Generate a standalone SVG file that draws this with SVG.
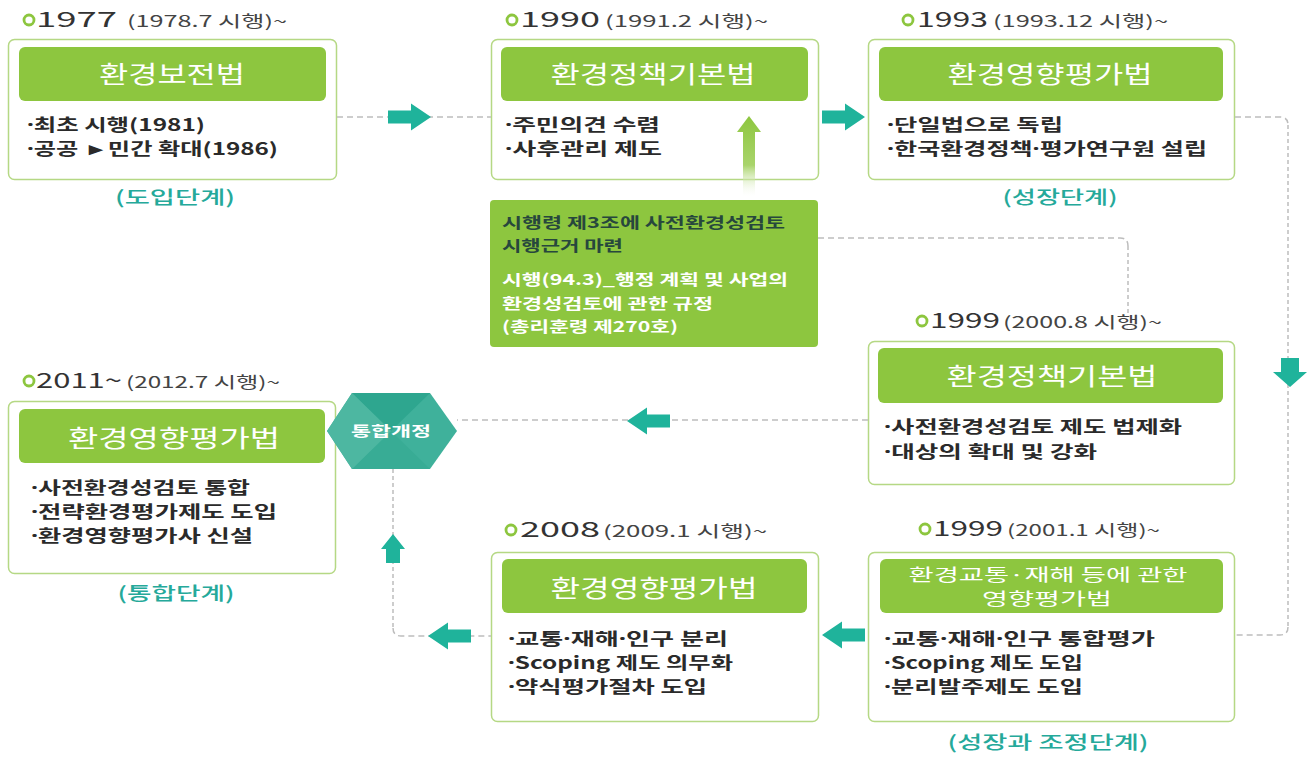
<svg xmlns="http://www.w3.org/2000/svg" width="1316" height="757" viewBox="0 0 1316 757">
<style>
text{font-family:"Noto Sans CJK KR","Noto Sans",sans-serif;}
.nd{font-family:"Noto Sans","DejaVu Sans",sans-serif;}
.box{fill:#fff;stroke:#b5d884;stroke-width:1.5;}
.bar{fill:#8dc63f;}
.ttl{fill:#fff;font-size:24px;text-anchor:middle;}
.ttl2{fill:#fff;font-size:16.5px;text-anchor:middle;}
.bul{fill:#2a2a2a;font-size:17px;font-weight:bold;}
.yr{fill:#333;font-size:21px;font-weight:400;}
.par{fill:#444;font-size:16px;}
.dot{fill:none;stroke:#8dc63f;stroke-width:2.8;}
.stg{fill:#25a99a;font-size:18px;font-weight:500;text-anchor:middle;}
.dash{fill:none;stroke:#bdbdbd;stroke-width:1.5;stroke-dasharray:6 4;}
.dott{fill:none;stroke:#bdbdbd;stroke-width:1.5;stroke-dasharray:4 3;}
.arr{fill:#1fb39b;}
.c1{fill:#27473d;font-size:15px;font-weight:bold;}
.c2{fill:#fff;font-size:15px;font-weight:bold;}
</style>
<defs>
<path id="ra" d="M0,-6.5 H23 V-13.5 L43,0 L23,13.5 V6.5 H0 Z"/>
<linearGradient id="ug" gradientUnits="userSpaceOnUse" x1="0" y1="116" x2="0" y2="198">
<stop offset="0" stop-color="#8dc63f"/>
<stop offset="0.6" stop-color="#a9d46b"/>
<stop offset="1" stop-color="#ffffff" stop-opacity="0"/>
</linearGradient>
</defs>

<g id="node-1977">
<circle class="dot" cx="29" cy="20" r="5"/>
<text class="yr" x="36" y="27" textLength="81" lengthAdjust="spacingAndGlyphs">1977</text>
<text class="par" x="127" y="27" textLength="160" lengthAdjust="spacingAndGlyphs">(1978.7 시행)~</text>
<rect class="box" x="8.5" y="39.5" width="328" height="140" rx="6"/>
<rect class="bar" x="19" y="47" width="307" height="54" rx="6"/>
<text class="ttl" x="172" y="83" textLength="146" lengthAdjust="spacingAndGlyphs">환경보전법</text>
<text class="bul" x="27" y="131" textLength="178" lengthAdjust="spacingAndGlyphs"><tspan class="nd">·</tspan>최초 시행(1981)</text>
<text class="bul" x="27" y="155" textLength="251" lengthAdjust="spacingAndGlyphs"><tspan class="nd">·</tspan>공공 ►민간 확대(1986)</text>
<text class="stg" x="175" y="204" textLength="120" lengthAdjust="spacingAndGlyphs">(도입단계)</text>
</g>

<g id="node-1990">
<circle class="dot" cx="512" cy="20" r="5"/>
<text class="yr" x="520" y="27" textLength="80" lengthAdjust="spacingAndGlyphs">1990</text>
<text class="par" x="605" y="27" textLength="163" lengthAdjust="spacingAndGlyphs">(1991.2 시행)~</text>
<rect class="box" x="491.5" y="39.5" width="327" height="140" rx="6"/>
<rect class="bar" x="501" y="47" width="307" height="54" rx="6"/>
<text class="ttl" x="653" y="83" textLength="205" lengthAdjust="spacingAndGlyphs">환경정책기본법</text>
<text class="bul" x="505" y="131" textLength="155" lengthAdjust="spacingAndGlyphs"><tspan class="nd">·</tspan>주민의견 수렴</text>
<text class="bul" x="505" y="155" textLength="157" lengthAdjust="spacingAndGlyphs"><tspan class="nd">·</tspan>사후관리 제도</text>
</g>

<g id="node-callout">
<rect x="490" y="200" width="328" height="147" rx="4" fill="#8dc63f"/>
<text class="c1" x="502" y="228" textLength="283" lengthAdjust="spacingAndGlyphs">시행령 제3조에 사전환경성검토</text>
<text class="c1" x="502" y="251" textLength="121" lengthAdjust="spacingAndGlyphs">시행근거 마련</text>
<text class="c2" x="502" y="285" textLength="286" lengthAdjust="spacingAndGlyphs">시행(94.3)_행정 계획 및 사업의</text>
<text class="c2" x="502" y="309" textLength="211" lengthAdjust="spacingAndGlyphs">환경성검토에 관한 규정</text>
<text class="c2" x="502" y="332" textLength="176" lengthAdjust="spacingAndGlyphs">(총리훈령 제270호)</text>
</g>

<g id="node-1993">
<circle class="dot" cx="908" cy="20" r="5"/>
<text class="yr" x="917" y="27" textLength="71" lengthAdjust="spacingAndGlyphs">1993</text>
<text class="par" x="993" y="27" textLength="175" lengthAdjust="spacingAndGlyphs">(1993.12 시행)~</text>
<rect class="box" x="868.5" y="39.5" width="366" height="140" rx="6"/>
<rect class="bar" x="879" y="47" width="344" height="54" rx="6"/>
<text class="ttl" x="1050" y="83" textLength="205" lengthAdjust="spacingAndGlyphs">환경영향평가법</text>
<text class="bul" x="887" y="131" textLength="176" lengthAdjust="spacingAndGlyphs"><tspan class="nd">·</tspan>단일법으로 독립</text>
<text class="bul" x="887" y="155" textLength="320" lengthAdjust="spacingAndGlyphs"><tspan class="nd">·</tspan>한국환경정책<tspan class="nd">·</tspan>평가연구원 설립</text>
<text class="stg" x="1060" y="204" textLength="115" lengthAdjust="spacingAndGlyphs">(성장단계)</text>
</g>

<g id="node-1999a">
<circle class="dot" cx="922" cy="321" r="5"/>
<text class="yr" x="930" y="328" textLength="70" lengthAdjust="spacingAndGlyphs">1999</text>
<text class="par" x="1003" y="328" textLength="159" lengthAdjust="spacingAndGlyphs">(2000.8 시행)~</text>
<rect class="box" x="868.5" y="341.5" width="366" height="143" rx="6"/>
<rect class="bar" x="878" y="348" width="345" height="55" rx="6"/>
<text class="ttl" x="1052" y="385" textLength="211" lengthAdjust="spacingAndGlyphs">환경정책기본법</text>
<text class="bul" x="884" y="433" textLength="298" lengthAdjust="spacingAndGlyphs"><tspan class="nd">·</tspan>사전환경성검토 제도 법제화</text>
<text class="bul" x="884" y="458" textLength="213" lengthAdjust="spacingAndGlyphs"><tspan class="nd">·</tspan>대상의 확대 및 강화</text>
</g>

<g id="node-2011">
<circle class="dot" cx="29" cy="381" r="5"/>
<text class="yr" x="36" y="388" textLength="86" lengthAdjust="spacingAndGlyphs">2011~</text>
<text class="par" x="126" y="388" textLength="154" lengthAdjust="spacingAndGlyphs">(2012.7 시행)~</text>
<rect class="box" x="8.5" y="401.5" width="327" height="172" rx="6"/>
<rect class="bar" x="19" y="409" width="306" height="54" rx="6"/>
<text class="ttl" x="174" y="447" textLength="212" lengthAdjust="spacingAndGlyphs">환경영향평가법</text>
<text class="bul" x="31" y="494" textLength="219" lengthAdjust="spacingAndGlyphs"><tspan class="nd">·</tspan>사전환경성검토 통합</text>
<text class="bul" x="31" y="518" textLength="246" lengthAdjust="spacingAndGlyphs"><tspan class="nd">·</tspan>전략환경평가제도 도입</text>
<text class="bul" x="31" y="542" textLength="222" lengthAdjust="spacingAndGlyphs"><tspan class="nd">·</tspan>환경영향평가사 신설</text>
<text class="stg" x="176" y="600" textLength="117" lengthAdjust="spacingAndGlyphs">(통합단계)</text>
</g>

<g id="node-2008">
<circle class="dot" cx="511" cy="530" r="5"/>
<text class="yr" x="520" y="537" textLength="80" lengthAdjust="spacingAndGlyphs">2008</text>
<text class="par" x="603" y="537" textLength="164" lengthAdjust="spacingAndGlyphs">(2009.1 시행)~</text>
<rect class="box" x="491.5" y="552.5" width="327" height="169" rx="6"/>
<rect class="bar" x="502" y="559" width="305" height="54" rx="6"/>
<text class="ttl" x="654" y="597" textLength="207" lengthAdjust="spacingAndGlyphs">환경영향평가법</text>
<text class="bul" x="508" y="645" textLength="220" lengthAdjust="spacingAndGlyphs"><tspan class="nd">·</tspan>교통<tspan class="nd">·</tspan>재해<tspan class="nd">·</tspan>인구 분리</text>
<text class="bul" x="508" y="669" textLength="225" lengthAdjust="spacingAndGlyphs"><tspan class="nd">·</tspan>Scoping 제도 의무화</text>
<text class="bul" x="508" y="693" textLength="199" lengthAdjust="spacingAndGlyphs"><tspan class="nd">·</tspan>약식평가절차 도입</text>
</g>

<g id="node-1999b">
<circle class="dot" cx="925" cy="529" r="5"/>
<text class="yr" x="933" y="536" textLength="70" lengthAdjust="spacingAndGlyphs">1999</text>
<text class="par" x="1007" y="536" textLength="153" lengthAdjust="spacingAndGlyphs">(2001.1 시행)~</text>
<rect class="box" x="868.5" y="552.5" width="366" height="169" rx="6"/>
<rect class="bar" x="880" y="559" width="343" height="54" rx="6"/>
<text class="ttl2" x="1048" y="581" textLength="279" lengthAdjust="spacingAndGlyphs">환경교통·재해 등에 관한</text>
<text class="ttl2" x="1047" y="605" textLength="130" lengthAdjust="spacingAndGlyphs">영향평가법</text>
<text class="bul" x="884" y="645" textLength="271" lengthAdjust="spacingAndGlyphs"><tspan class="nd">·</tspan>교통<tspan class="nd">·</tspan>재해<tspan class="nd">·</tspan>인구 통합평가</text>
<text class="bul" x="884" y="669" textLength="199" lengthAdjust="spacingAndGlyphs"><tspan class="nd">·</tspan>Scoping 제도 도입</text>
<text class="bul" x="884" y="693" textLength="199" lengthAdjust="spacingAndGlyphs"><tspan class="nd">·</tspan>분리발주제도 도입</text>
<text class="stg" x="1048" y="749" textLength="201" lengthAdjust="spacingAndGlyphs">(성장과 조정단계)</text>
</g>

<g id="connectors">
<path class="dash" d="M337,117 H491"/>
<path class="dash" d="M1235,117 H1280 Q1288,117 1288,125"/>
<path class="dott" d="M1288,125 V627"/>
<path class="dash" d="M1288,627 Q1288,635 1280,635 H1235"/>
<path class="dash" d="M818,238 H1120 Q1128,238 1128,246"/>
<path class="dott" d="M1128,246 V313"/>
<path class="dash" d="M868,420 H457"/>
<path class="dott" d="M393,469 V628"/>
<path class="dash" d="M393,628 Q393,636 401,636 H491"/>
<use href="#ra" class="arr" transform="translate(388,117)"/>
<use href="#ra" class="arr" transform="translate(822,117)"/>
<use href="#ra" class="arr" transform="translate(670,421) scale(-1,1)"/>
<use href="#ra" class="arr" transform="translate(865,635) scale(-1,1)"/>
<use href="#ra" class="arr" transform="translate(471,636) scale(-1,1)"/>
<path class="arr" d="M1281,358 H1299 V372 H1307 L1290,387 L1273,372 H1281 Z"/>
<path class="arr" d="M393,534 L405,549 H400 V563 H386 V549 H381 Z"/>
<path fill="url(#ug)" d="M749,116 L761,132 H755 V196 H743 V132 H737 Z"/>
</g>

<g id="node-hex">
<polygon points="327,431 352,393 430,393 457,431 430,469 352,469" fill="#3fb19b"/>
<polygon points="352,393 430,393 391,431" fill="#2ea68f"/>
<polygon points="352,469 430,469 391,431" fill="#38ac95"/>
<polygon points="327,431 352,393 391,431 352,469" fill="#4db7a1"/>
<text x="391" y="436" fill="#fff" font-size="14" font-weight="bold" text-anchor="middle" textLength="80" lengthAdjust="spacingAndGlyphs">통합개정</text>
</g>
</svg>
